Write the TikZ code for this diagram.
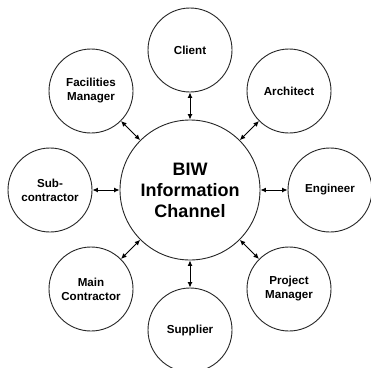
\documentclass[tikz,border=0pt]{standalone}
\usepackage{fontspec}
\setmainfont{Liberation Sans}
\usetikzlibrary{arrows.meta}
\begin{document}
\begin{tikzpicture}[x=1pt,y=-1pt,
  party/.style={circle, draw=black!85, line width=0.9pt, fill=white, minimum size=84pt, inner sep=0pt, align=center, font=\bfseries\fontsize{11.6}{14}\selectfont},
  hub/.style={circle, draw=black!85, line width=0.9pt, fill=white, minimum size=140pt, inner sep=0pt, align=center, font=\bfseries\fontsize{18}{21}\selectfont},
  link/.style={{Latex[length=5.5pt,width=5pt]}-{Latex[length=5.5pt,width=5pt]}, line width=1pt}]
\useasboundingbox[fill=white] (0,0) rectangle (371,367);
\node[hub] (biw) at (190,190){BIW\\Information\\Channel};
\node[party] (client) at (190,50){Client};
\node[party] (arch) at (289,91){Architect};
\node[party] (eng) at (330,190){Engineer};
\node[party] (pm) at (289,289){Project\\Manager};
\node[party] (supp) at (190,330){Supplier};
\node[party] (mainc) at (91,289){Main\\Contractor};
\node[party] (subc) at (50,190){Sub-\\contractor};
\node[party] (fac) at (91,91){Facilities\\Manager};
\draw[link](client) -- (biw);
\draw[link](arch) -- (biw);
\draw[link](eng) -- (biw);
\draw[link](pm) -- (biw);
\draw[link](supp) -- (biw);
\draw[link](mainc) -- (biw);
\draw[link](subc) -- (biw);
\draw[link](fac) -- (biw);

\end{tikzpicture}
\end{document}
